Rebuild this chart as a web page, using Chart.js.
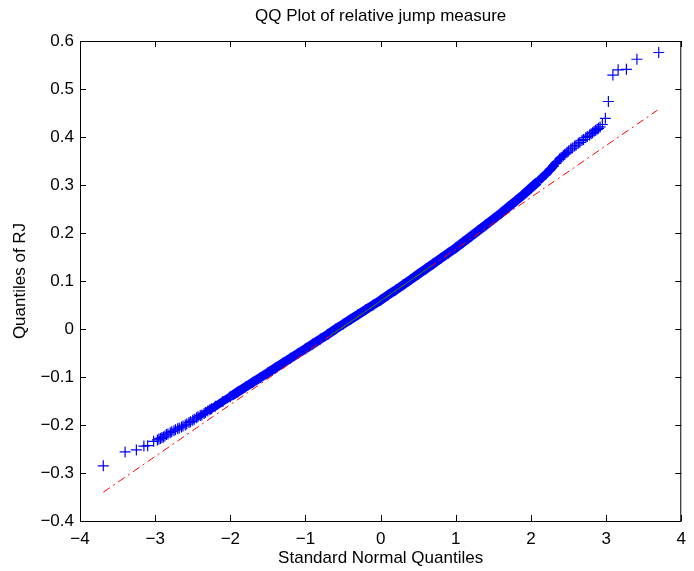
<!DOCTYPE html>
<html>
<head>
<meta charset="utf-8">
<script src="https://cdn.jsdelivr.net/npm/chart.js@4.4.0/dist/chart.umd.min.js"></script>
<style>
  html, body { margin: 0; padding: 0; background: #fff; }
  #wrap { width: 694px; height: 571px; }
</style>
</head>
<body>
<div id="wrap"><canvas id="qq"></canvas></div>
<script>
// theoretical (standard normal) quantiles
const normX = [-3.69, -3.40, -3.25, -3.15, -3.10, -3.02, -2.97, -2.95, -2.93, -2.91,
  -2.89, -2.87, -2.85, -2.83, -2.80, -2.78, -2.75, -2.73, -2.70, -2.68,
  -2.65, -2.63, -2.60, -2.58, -2.55, -2.53, -2.50, -2.48, -2.45, -2.43,
  -2.40, -2.38, -2.35, -2.33, -2.30, -2.27, -2.25,
  -2.2, -2.1, -2.0, -1.9, -1.8, -1.7, -1.6, -1.5, -1.4, -1.3, -1.2, -1.1, -1.0,
  -0.9, -0.8, -0.7, -0.6, -0.5, -0.4, -0.3, -0.2, -0.1, 0, 0.1, 0.2, 0.3, 0.4,
  0.5, 0.6, 0.7, 0.8, 0.9, 1.0, 1.1, 1.2, 1.3, 1.4, 1.5, 1.6, 1.7, 1.8, 1.9,
  2.0, 2.1, 2.2, 2.25, 2.3, 2.33, 2.35, 2.38, 2.40, 2.43, 2.45, 2.48, 2.50,
  2.53, 2.55, 2.58, 2.60, 2.63, 2.65, 2.68, 2.70, 2.73, 2.75, 2.78, 2.80,
  2.82, 2.84, 2.86, 2.88, 2.90, 2.92, 2.95, 2.99, 3.03, 3.09, 3.16, 3.27, 3.41, 3.70];
// quantiles of RJ
const rjQ = [-0.285, -0.256, -0.252, -0.244, -0.243, -0.234, -0.231, -0.229, -0.228, -0.226,
  -0.225, -0.223, -0.220, -0.219, -0.216, -0.214, -0.212, -0.210, -0.208, -0.206,
  -0.204, -0.202, -0.200, -0.198, -0.195, -0.193, -0.190, -0.188, -0.185, -0.183,
  -0.180, -0.179, -0.176, -0.174, -0.171, -0.168, -0.166,
  -0.161, -0.151, -0.141, -0.131, -0.121, -0.111, -0.101, -0.091, -0.081, -0.071, -0.061, -0.051, -0.041,
  -0.031, -0.021, -0.011, 0.000, 0.010, 0.020, 0.030, 0.040, 0.050, 0.060, 0.071, 0.081, 0.092, 0.103,
  0.114, 0.125, 0.136, 0.147, 0.158, 0.169, 0.181, 0.193, 0.205, 0.217, 0.229, 0.241, 0.254, 0.267, 0.280,
  0.294, 0.308, 0.323, 0.331, 0.340, 0.345, 0.349, 0.354, 0.357, 0.361, 0.364, 0.368, 0.371,
  0.375, 0.377, 0.381, 0.383, 0.387, 0.389, 0.393, 0.395, 0.399, 0.401, 0.404, 0.407,
  0.409, 0.412, 0.414, 0.416, 0.418, 0.421, 0.426, 0.439, 0.474, 0.529, 0.540, 0.541, 0.562, 0.576];

// reference line (dash-dot, full range) and the solid part between quartiles
const refX = [-3.69, 3.684];
const refY = [-0.340, 0.456];
const quartX = [-0.6745, 0.6745];
const quartY = [-0.0143, 0.1313];

const xTicks = [-4, -3, -2, -1, 0, 1, 2, 3, 4];
const yTicks = [-0.4, -0.3, -0.2, -0.1, 0, 0.1, 0.2, 0.3, 0.4, 0.5, 0.6];

const FONT = "'Liberation Sans', Arial, Helvetica, sans-serif";
const pts = (xs, ys) => xs.map((x, i) => ({ x: x, y: ys[i] }));
// the dense middle, where the crosses merge into one thick stroke
const band = pts(normX, rjQ).filter(p => p.x >= -2.45 && p.x <= 2.5);

// box, inward ticks and title like matlab
const matlabAxes = {
  id: "matlabAxes",
  afterDraw(chart) {
    const ctx = chart.ctx;
    const a = chart.chartArea;
    const sx = chart.scales.x, sy = chart.scales.y;
    ctx.save();
    ctx.strokeStyle = "#000";
    ctx.lineWidth = 1;
    ctx.strokeRect(a.left + 0.5, a.top + 0.5, a.right - a.left - 1, a.bottom - a.top);
    ctx.beginPath();
    xTicks.forEach(v => {
      const px = Math.round(sx.getPixelForValue(v)) + 0.5;
      ctx.moveTo(px, a.bottom); ctx.lineTo(px, a.bottom - 6);
      ctx.moveTo(px, a.top); ctx.lineTo(px, a.top + 6);
    });
    yTicks.forEach(v => {
      const py = Math.round(sy.getPixelForValue(v)) + 0.5;
      ctx.moveTo(a.left, py); ctx.lineTo(a.left + 6, py);
      ctx.moveTo(a.right, py); ctx.lineTo(a.right - 6, py);
    });
    ctx.stroke();
    ctx.fillStyle = "#000";
    ctx.font = "17px " + FONT;
    ctx.textAlign = "center";
    ctx.textBaseline = "middle";
    ctx.fillText("QQ Plot of relative jump measure", (a.left + a.right) / 2, 16);
    ctx.restore();
  }
};

const minus = s => String(s).replace("-", "\u2212");
const bandWidth = ctx => {
  const x = Math.abs(ctx.p0.parsed.x);
  return x > 2.3 ? 6 : (x > 2.0 ? 8 : 9);
};

new Chart(document.getElementById("qq"), {
  type: "scatter",
  data: {
    datasets: [
      {
        data: pts(quartX, quartY),
        showLine: true,
        borderColor: "#1a8a1a",
        borderWidth: 1,
        pointRadius: 0
      },
      {
        data: pts(refX, refY),
        showLine: true,
        borderColor: "#ff0000",
        borderWidth: 1,
        borderDash: [8, 4, 2, 4],
        pointRadius: 0
      },
      {
        data: pts(normX, rjQ),
        pointStyle: "cross",
        pointRadius: 5.5,
        borderColor: "#0000ff",
        backgroundColor: "#0000ff",
        borderWidth: 1.2
      },
      {
        data: band,
        showLine: true,
        borderColor: "#0000ff",
        borderWidth: 9,
        segment: { borderWidth: bandWidth },
        pointRadius: 0
      }
    ]
  },
  options: {
    responsive: true,
    maintainAspectRatio: false,
    animation: false,
    layout: { padding: { top: 41, right: 6, left: 0, bottom: 0 } },
    plugins: { legend: { display: false }, tooltip: { enabled: false } },
    scales: {
      x: {
        min: -4, max: 4,
        afterFit: s => { s.height = 50; },
        grid: { display: false, drawTicks: false },
        border: { display: false },
        ticks: { stepSize: 1, padding: 8, color: "#000", font: { size: 17, family: FONT },
          callback: v => minus(v) },
        title: { display: true, text: "Standard Normal Quantiles", color: "#000",
          font: { size: 17, family: FONT }, padding: { top: 0, bottom: 2 } }
      },
      y: {
        min: -0.4, max: 0.6,
        afterFit: s => { s.width = 80; },
        grid: { display: false, drawTicks: false },
        border: { display: false },
        ticks: { stepSize: 0.1, padding: 6, color: "#000", font: { size: 17, family: FONT },
          callback: v => minus(Math.round(v * 10) / 10) },
        title: { display: true, text: "Quantiles of RJ", color: "#000",
          font: { size: 17, family: FONT }, padding: { top: 10, bottom: 0 } }
      }
    }
  },
  plugins: [matlabAxes]
});
</script>
</body>
</html>
